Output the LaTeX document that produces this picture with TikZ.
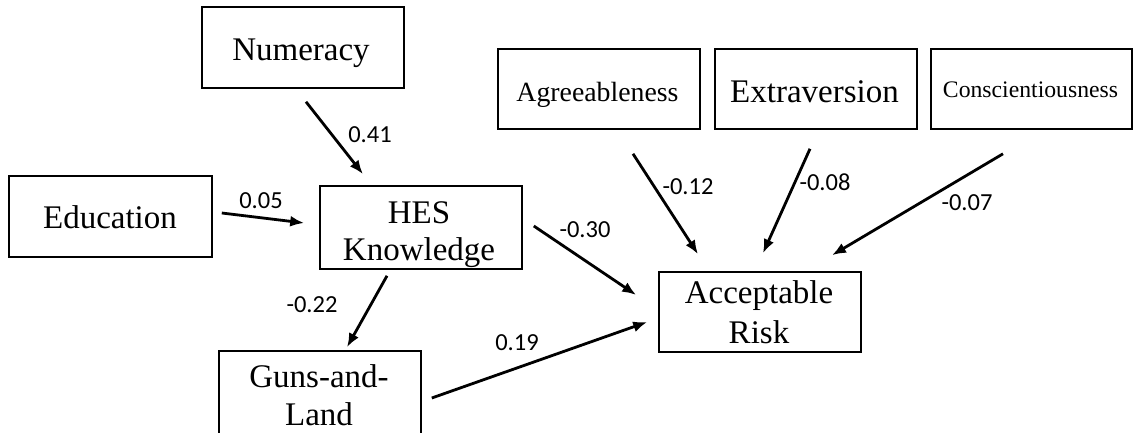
\documentclass[tikz,border=0pt]{standalone}
\usepackage{fontspec}
\setmainfont{Liberation Serif}
\newfontfamily\lblfont{Carlito}
\usetikzlibrary{arrows.meta}
\begin{document}
\begin{tikzpicture}[x=1pt,y=1pt,
  box/.style={draw=black,line width=1.6pt,inner sep=0pt,
    minimum width=202pt,minimum height=81pt},
  txt/.style={anchor=base,inner sep=0pt,font=\fontsize{33}{37}\selectfont},
  arr/.style={line width=2.8pt,-{Latex[length=14pt,width=11pt]}},
  lbl/.style={font=\lblfont\fontsize{24.5}{28}\selectfont,inner sep=0pt}]
\useasboundingbox (0,0) rectangle (1133,-433);
\fill[white] (0,0) rectangle (1133,-433);
% boxes
\node[box] (num) at (303,-47.5) {};
\node[box,minimum width=203pt] (edu) at (110.5,-216.5) {};
\node[box,minimum height=83pt] (hes) at (421,-227.5) {};
\node[box,minimum height=83pt] (guns) at (320,-392.5) {};
\node[box,minimum height=80pt] (agr) at (599,-89) {};
\node[box,minimum height=80pt] (ext) at (816,-89) {};
\node[box,minimum height=80pt,minimum width=201pt] (con) at (1031.5,-89) {};
\node[box,minimum height=80pt] (acc) at (760,-312) {};
% box texts
\node[txt] (tnum) at (301,-61) {Numeracy};
\node[txt] (tedu) at (110,-229) {Education};
\node[txt] (thes1) at (419,-223) {HES};
\node[txt] (thes2) at (419,-260) {Knowledge};
\node[txt] (tguns1) at (319,-387) {Guns-and-};
\node[txt] (tguns2) at (319,-425) {Land};
\node[txt,font=\fontsize{27.8}{32}\selectfont] (tagr) at (597.5,-102) {Agreeableness};
\node[txt] (text) at (814.5,-103) {Extraversion};
\node[txt,font=\fontsize{23.7}{28}\selectfont] (tcon) at (1030.5,-98) {Conscientiousness};
\node[txt] (tacc1) at (759,-303) {Acceptable};
\node[txt] (tacc2) at (759,-343) {Risk};
% connectors
\draw[arr] ([xshift=3pt,yshift=-13pt]num.south) -- ([xshift=-58pt,yshift=11pt]hes.north);
\draw[arr] ([xshift=9pt,yshift=3.5pt]edu.east) -- ([xshift=-15pt,yshift=4.5pt]hes.west);
\draw[arr] ([xshift=-34pt,yshift=-6pt]hes.south) -- ([xshift=27pt,yshift=3pt]guns.north);
\draw[arr] ([xshift=11pt,yshift=1.5pt]hes.east) -- ([xshift=-22pt,yshift=17pt]acc.west);
\draw[arr] ([xshift=10pt,yshift=-5.5pt]guns.east) -- ([xshift=-11pt,yshift=-10pt]acc.west);
\draw[arr] ([xshift=34pt,yshift=-24pt]agr.south) -- ([xshift=-62pt,yshift=17pt]acc.north);
\draw[arr] ([xshift=-6pt,yshift=-19pt]ext.south) -- ([xshift=3pt,yshift=18pt]acc.north);
\draw[arr] ([xshift=-28.5pt,yshift=-24pt]con.south) -- ([xshift=72pt,yshift=16pt]acc.north);
% labels
\node[lbl] (l1) at (370,-135) {0.41};
\node[lbl] (l2) at (261,-201) {0.05};
\node[lbl] (l3) at (312,-305) {-0.22};
\node[lbl] (l4) at (517,-343) {0.19};
\node[lbl] (l5) at (585,-230) {-0.30};
\node[lbl] (l6) at (688,-187) {-0.12};
\node[lbl] (l7) at (825,-182) {-0.08};
\node[lbl] (l8) at (967,-203) {-0.07};
\end{tikzpicture}
\end{document}
